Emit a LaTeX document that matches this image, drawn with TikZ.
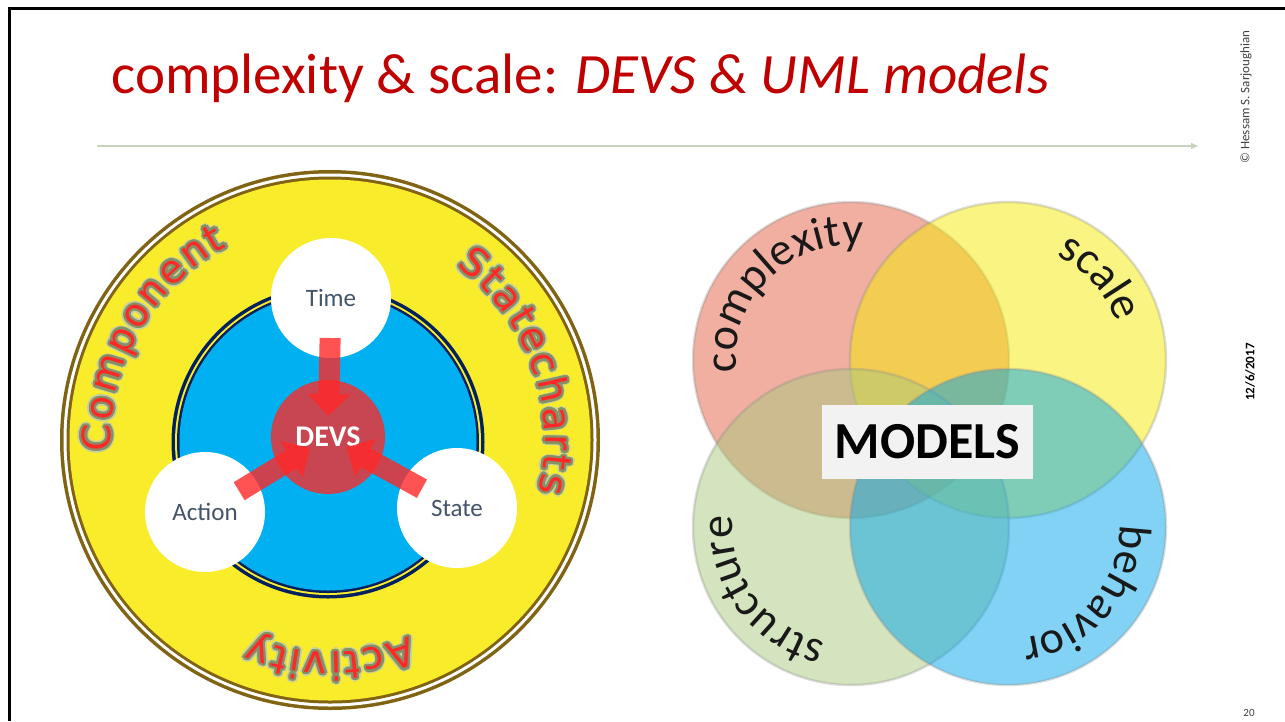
\documentclass[tikz,border=0pt]{standalone}
\usepackage{fontspec}
\setmainfont{Carlito}
\newfontfamily\arcfont{DejaVu Sans}
\usetikzlibrary{arrows.meta, decorations.text}
\definecolor{titlered}{RGB}{192,0,0}
\definecolor{ringbrown}{RGB}{128,100,20}
\definecolor{ringyellow}{RGB}{249,236,42}
\definecolor{devsblue}{RGB}{0,176,240}
\definecolor{navyring}{RGB}{0,32,96}
\definecolor{devsred}{RGB}{200,70,82}
\definecolor{arrowred}{RGB}{255,40,40}
\definecolor{slatetext}{RGB}{68,84,106}
\definecolor{glowgreen}{RGB}{132,145,100}
\definecolor{glowpale}{RGB}{200,207,162}
\definecolor{rulegreen}{RGB}{200,212,190}
\definecolor{vennred}{RGB}{225,95,65}
\definecolor{vennyellow}{RGB}{245,235,5}
\definecolor{venngreen}{RGB}{169,201,125}
\definecolor{vennblue}{RGB}{5,165,235}
\definecolor{modelgray}{RGB}{242,242,242}
\tikzset{
    bubble/.style={circle, fill=white, minimum size=120pt, inner sep=0pt, text=slatetext, font=\fontsize{25}{25}\selectfont}, % 外圈三个白圆
    hubnode/.style={circle, fill=devsred, minimum size=114pt, inner sep=0pt, text=white, font=\bfseries\fontsize{30}{30}\selectfont}, % 中心 DEVS
    flow/.style={arrowred, line width=21pt, -{Triangle[length=22pt, width=42pt]}, shorten <=40pt, shorten >=21pt}, % 红色粗箭头
    petal/.style={fill opacity=0.5, draw=black!45, draw opacity=0.3, line width=2.5pt} % 韦恩图的圆
}
% 沿圆弧的描边文字：中心, 半径, 起角, 终角, 文字（铺满整段弧）
\newcommand\ringtext[5]{%
    \foreach \ang/\rad/\col in {0/3.9/glowpale,45/3.9/glowpale,90/3.9/glowpale,135/3.9/glowpale,180/3.9/glowpale,225/3.9/glowpale,270/3.9/glowpale,315/3.9/glowpale,
        0/2.3/glowgreen,30/2.3/glowgreen,60/2.3/glowgreen,90/2.3/glowgreen,120/2.3/glowgreen,150/2.3/glowgreen,
        180/2.3/glowgreen,210/2.3/glowgreen,240/2.3/glowgreen,270/2.3/glowgreen,300/2.3/glowgreen,330/2.3/glowgreen}{
        \begin{scope}[transform canvas={shift={(\ang:\rad)}}]
            \path[decorate, decoration={text along path, text align=fit to path, text color=\col,
                text={|\arcfont\fontsize{39}{39}\selectfont|#5}}] (#1) ++(#3:#2) arc[start angle=#3, end angle=#4, radius=#2];
        \end{scope}}
    \path[decorate, decoration={text along path, text align=fit to path, text color=arrowred,
        text={|\arcfont\fontsize{39}{39}\selectfont|#5}}] (#1) ++(#3:#2) arc[start angle=#3, end angle=#4, radius=#2];}
% 韦恩图里的弧形文字
\newcommand\venntext[5]{%
    \path[decorate, decoration={text along path, text align=center, text color=black!90,
        text={|\fontsize{46}{46}\selectfont|#5}}] (#1) ++(#3:#2) arc[start angle=#3, end angle=#4, radius=#2];}

\begin{document}
\begin{tikzpicture}[x=1pt, y=1pt]
    \useasboundingbox (0,0) rectangle (1285,-721);
    \draw[line width=3pt] (9,-721) -- (9,-8) -- (1285,-8);

    \node[anchor=base west, text=titlered, font=\fontsize{57}{57}\selectfont] (title) at (108,-93)
        {complexity \& scale: \textit{DEVS \& UML models}};
    \coordinate (rulestart) at (97,-146);
    \coordinate (ruleend) at (1198,-146);
    \draw[rulegreen, line width=1.5pt, -{Triangle[length=7pt, width=6pt]}] (rulestart) -- (ruleend);

    \node[rotate=90, text=black!75, font=\fontsize{13}{13}\selectfont] (author) at (1246,-97) {\textcopyright{} Hessam S. Sarjoughian};
    \node[rotate=90, font=\bfseries\fontsize{13}{13}\selectfont] (date) at (1250,-372) {12/6/2017};
    \node[text=black!75, font=\fontsize{11}{11}\selectfont] (page) at (1249,-713) {20};

    % left: DEVS wheel
    \coordinate (hub) at (330,-440);
    \fill[ringbrown] (hub) circle[radius=270];
    \fill[white] (hub) circle[radius=266.5];
    \fill[ringbrown] (hub) circle[radius=263.5];
    \fill[ringyellow] (hub) circle[radius=260.5];

    \coordinate (core) at (328,-442);
    \fill[navyring] (core) circle[radius=156.5];
    \fill[ringyellow] (core) circle[radius=153];
    \fill[navyring] (core) circle[radius=151];
    \fill[devsblue] (core) circle[radius=148.5];

    \ringtext{hub}{219}{183}{118}{Component}
    \ringtext{hub}{215}{54}{-14}{Statecharts}
    \ringtext{hub}{212}{-68}{-112}{Activity}

    \node[hubnode] (devs) at (328,-437) {DEVS};
    \node[bubble] (time) at (331,-298) {Time};
    \node[bubble] (action) at (205,-512) {Action};
    \node[bubble] (state) at (457,-508) {State};
    \foreach \src in {time,action,state}{
        \begin{scope}[transparency group, opacity=0.8]
            \draw[flow] (\src.center) -- (devs.center);
        \end{scope}}

    % right: MODELS venn
    \coordinate (cplx) at (851,-360);
    \coordinate (scl) at (1008,-360);
    \coordinate (strc) at (851,-527);
    \coordinate (bhv) at (1008,-527);
    \draw[petal, fill=vennred] (cplx) circle[radius=158];
    \draw[petal, fill=vennyellow] (scl) circle[radius=158];
    \draw[petal, fill=venngreen] (strc) circle[radius=158];
    \draw[petal, fill=vennblue] (bhv) circle[radius=158];

    \venntext{cplx}{115}{210}{60}{complexity}
    \venntext{scl}{115}{100}{-16}{scale}
    \venntext{strc}{118}{-70}{-218}{structure}
    \venntext{bhv}{112}{30}{-112}{behavior}

    \node[fill=modelgray, minimum width=211pt, minimum height=74pt, inner sep=0pt,
        font=\bfseries\fontsize{52}{52}\selectfont] (models) at (927.5,-442) {MODELS};
\end{tikzpicture}
\end{document}
